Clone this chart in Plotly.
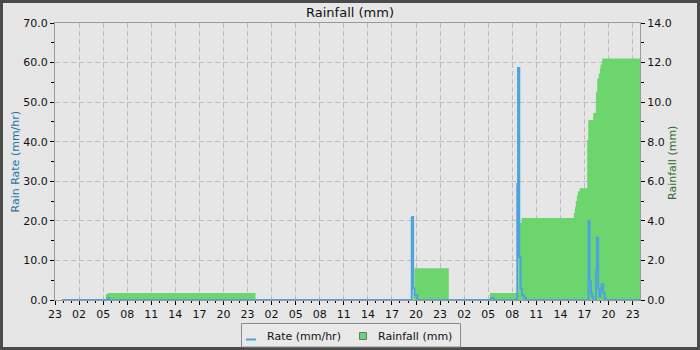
import plotly.graph_objects as go

# ---- data ----
rain_time = [
    "2024-06-09 23:50", "2024-06-10 05:20", "2024-06-10 05:35", "2024-06-11 00:00",
    "2024-06-11 19:40", "2024-06-11 19:48", "2024-06-12 00:05", "2024-06-12 05:13",
    "2024-06-12 08:45", "2024-06-12 09:10", "2024-06-12 15:40", "2024-06-12 15:48",
    "2024-06-12 15:55", "2024-06-12 16:03", "2024-06-12 16:11", "2024-06-12 16:24",
    "2024-06-12 17:20", "2024-06-12 17:28", "2024-06-12 18:05", "2024-06-12 18:25",
    "2024-06-12 18:35", "2024-06-12 18:46", "2024-06-12 18:55", "2024-06-12 19:00",
    "2024-06-12 19:10", "2024-06-12 19:15", "2024-06-12 23:55",
]
rain_total = [
    0, 0.3, 0.36, 0,
    0.2, 1.6, 0, 0.36,
    3.9, 4.15, 4.4, 4.7,
    5.0, 5.3, 5.5, 5.65,
    8.1, 9.1, 9.45, 10.5,
    11.2, 11.45, 11.7, 11.9,
    12.1, 12.2, 12.2,
]

rate_time = [
    "2024-06-09 23:50", "2024-06-10 05:35", "2024-06-10 05:45",
    "2024-06-11 19:28", "2024-06-11 19:32", "2024-06-11 19:38", "2024-06-11 19:48", "2024-06-11 20:10",
    "2024-06-12 05:20", "2024-06-12 05:40",
    "2024-06-12 08:37", "2024-06-12 08:43", "2024-06-12 08:52", "2024-06-12 09:02",
    "2024-06-12 09:12", "2024-06-12 09:27", "2024-06-12 09:42",
    "2024-06-12 17:30", "2024-06-12 17:38", "2024-06-12 17:48", "2024-06-12 17:55", "2024-06-12 18:05",
    "2024-06-12 18:25", "2024-06-12 18:32", "2024-06-12 18:42", "2024-06-12 18:52",
    "2024-06-12 19:00", "2024-06-12 19:08", "2024-06-12 19:20", "2024-06-12 19:30", "2024-06-12 19:38",
    "2024-06-12 23:55",
]
rate_value = [
    0, 0.5, 0,
    20.8, 21.0, 3.0, 1.2, 0,
    0.5, 0,
    29.3, 58.6, 10.8, 2.9,
    1.2, 0.5, 0,
    19.9, 4.8, 1.8, 0.8, 0,
    7.6, 15.7, 3.0, 0.8,
    2.5, 4.0, 1.8, 0.5, 0,
    0,
]

rate_name = "Rate (mm/hr)"
rain_name = "Rainfall (mm)"
x_range = ["2024-06-09 23:00", "2024-06-12 23:55"]

BLUE = "#4ca3dd"
GREEN = "#6dd56d"
BG = "#e6e6e6"
GRID = "#bcbcbc"
AXLINE = "#9a9a9a"
FONT = "DejaVu Sans"

# plot area in pixels: x 55..640, y 23..300
def PX(px):
    return (px - 55) / 585

def PY(py):
    return (300 - py) / 277

fig = go.Figure()

# cumulative rainfall (right axis) - drawn first, underneath
fig.add_trace(go.Scatter(
    x=rain_time, y=rain_total, mode="lines", line=dict(width=0, color=GREEN, shape="hv"),
    fill="tozeroy", fillcolor=GREEN, yaxis="y", name=rain_name, showlegend=False, hoverinfo="skip"))

# rain rate (left axis) - overlay, on top
fig.add_trace(go.Scatter(
    x=rate_time, y=rate_value, mode="lines", line=dict(width=2, color=BLUE, shape="hv"),
    yaxis="y2", name=rate_name, showlegend=False))

tickfont = dict(family=FONT, size=11, color="#111")

legend_shapes = [
    dict(type="rect", xref="paper", yref="paper", x0=PX(241.5), x1=PX(460.5), y0=PY(347), y1=PY(323.5),
         line=dict(color="#8a8a8a", width=1), fillcolor="#e9e9e9", layer="above"),
    dict(type="line", xref="paper", yref="paper", x0=PX(246), x1=PX(256), y0=PY(339.5), y1=PY(339.5),
         line=dict(color=BLUE, width=2), layer="above"),
    dict(type="rect", xref="paper", yref="paper", x0=PX(359.5), x1=PX(366.5), y0=PY(339.5), y1=PY(332.5),
         line=dict(color="#707070", width=1), fillcolor=GREEN, layer="above"),
]

fig.update_layout(
    width=700, height=350,
    margin=dict(l=55, r=60, t=23, b=50, autoexpand=False),
    paper_bgcolor=BG, plot_bgcolor=BG,
    font=dict(family=FONT, size=11, color="#111"),
    showlegend=False,
    title=dict(text="Rainfall (mm)", x=0.5, xref="container", xanchor="center",
               y=1 - 12 / 350, yref="container", yanchor="middle",
               font=dict(family=FONT, size=13, color="#111")),
    xaxis=dict(
        type="date", range=x_range, tick0="2024-06-09 23:00", dtick=3 * 3600000,
        tickformat="%H", ticks="outside", ticklen=4, tickcolor="#000", tickfont=tickfont,
        showline=True, linecolor=AXLINE, linewidth=1, mirror=True,
        showgrid=True, gridcolor=GRID, griddash="5px,3px", gridwidth=1, zeroline=False,
        minor=dict(tick0="2024-06-09 23:00", dtick=3600000, ticks="outside", ticklen=2,
                   tickcolor="#000", showgrid=False),
    ),
    yaxis=dict(
        side="right", range=[0, 14], tick0=0, dtick=2, tickformat=".1f",
        ticks="outside", ticklen=4, tickcolor="#000", tickfont=tickfont,
        showline=True, linecolor=AXLINE, linewidth=1,
        showgrid=True, gridcolor=GRID, griddash="5px,3px", gridwidth=1, zeroline=False,
        minor=dict(dtick=1, ticks="outside", ticklen=3, tickcolor="#000", showgrid=False),
    ),
    yaxis2=dict(
        overlaying="y", side="left", range=[0, 70], tick0=0, dtick=10, tickformat=".1f",
        ticks="outside", ticklen=4, tickcolor="#000", tickfont=tickfont,
        showline=True, linecolor=AXLINE, linewidth=1,
        showgrid=False, zeroline=False,
        minor=dict(dtick=5, ticks="outside", ticklen=3, tickcolor="#000", showgrid=False),
    ),
    annotations=[
        dict(text="Rain Rate (mm/hr)", textangle=-90, xref="paper", yref="paper",
             x=PX(15), y=0.5, xanchor="center", yanchor="middle", showarrow=False,
             font=dict(family=FONT, size=11, color="#1b74a8")),
        dict(text="Rainfall (mm)", textangle=-90, xref="paper", yref="paper",
             x=PX(672), y=PY(163), xanchor="center", yanchor="middle",
             showarrow=False, font=dict(family=FONT, size=11, color="#2d6e2d")),
        dict(text=rate_name, xref="paper", yref="paper", x=PX(265), y=PY(336),
             xanchor="left", yanchor="middle", showarrow=False,
             font=dict(family=FONT, size=11, color="#111")),
        dict(text=rain_name, xref="paper", yref="paper", x=PX(376), y=PY(336),
             xanchor="left", yanchor="middle", showarrow=False,
             font=dict(family=FONT, size=11, color="#111")),
    ],
    shapes=[
        dict(type="rect", xref="paper", yref="paper",
             x0=PX(1.5), x1=PX(698.5), y0=PY(348.5), y1=PY(1.5),
             line=dict(color="#4a4a4a", width=3), fillcolor="rgba(0,0,0,0)", layer="above"),
    ] + legend_shapes,
)

fig.write_html("out.html")
